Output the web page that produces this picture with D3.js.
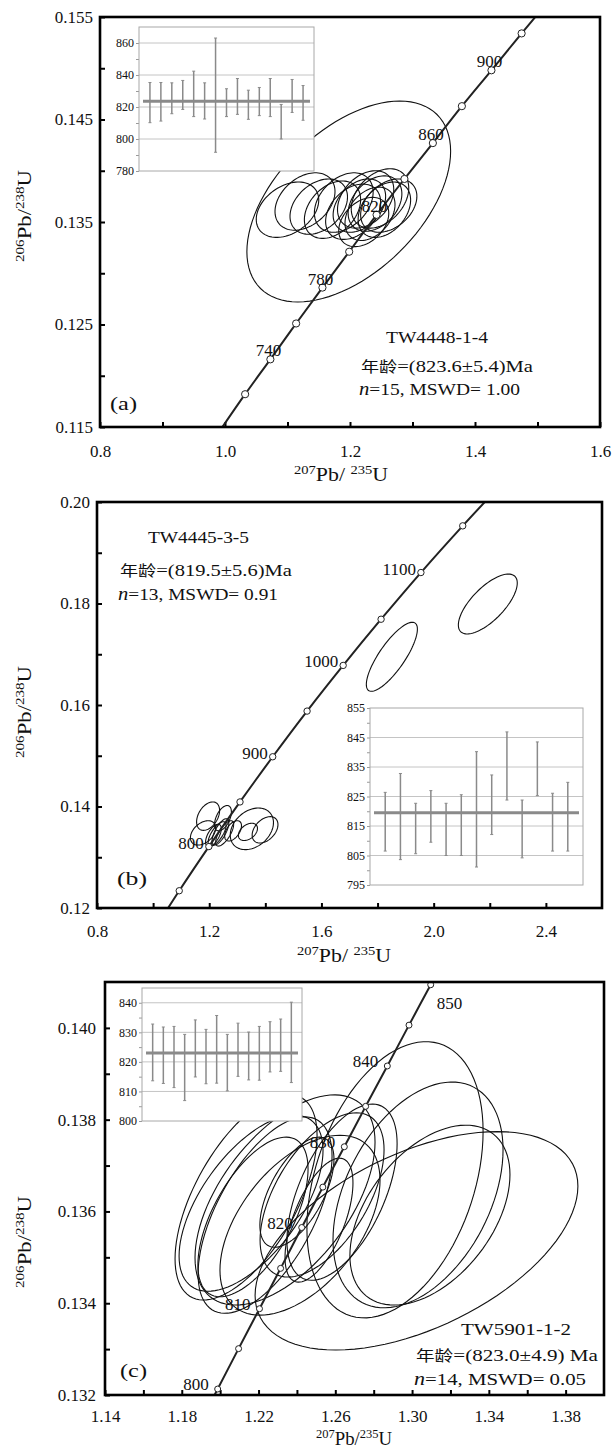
<!DOCTYPE html>
<html lang="zh-CN">
<head>
<meta charset="UTF-8">
<title>锆石 U-Pb 谐和图</title>
<style>
    body {
        margin: 0;
        padding: 0;
        background-color: #fff;
    }
    #chart {
        display: block;
    }
    text {
        font-family: "Liberation Serif", "Times New Roman", serif;
        fill: #111;
    }
    .cjk {
        font-family: "Noto Sans CJK SC", sans-serif;
    }
</style>
</head>
<body>
<svg id="chart" width="612" height="1452"></svg>

<script src="https://d3js.org/d3.v7.min.js"></script>
<script>
    // ---------- 数据 (a) TW4448-1-4 ----------
    // 谐和曲线年龄点 (Ma) 及其坐标
    var aConAge = [700, 720, 740, 760, 780, 800, 820, 840, 860, 880, 900, 920, 940];
    var aConX = [0.9925, 1.0322, 1.0726, 1.1138, 1.1559, 1.1987, 1.2425, 1.2871, 1.3326, 1.3790, 1.4263, 1.4746, 1.5238];
    var aConY = [0.1147, 0.1182, 0.1216, 0.1251, 0.1286, 0.1321, 0.1357, 0.1392, 0.1427, 0.1463, 0.1498, 0.1534, 0.1570];
    var aLabelAge = [740, 780, 820, 860, 900];
    // 误差椭圆: 中心, 2σ 范围, 相关系数
    var aEllX = [1.100, 1.128, 1.150, 1.172, 1.190, 1.205, 1.198, 1.215, 1.225, 1.232, 1.240, 1.248, 1.222, 1.255, 1.262];
    var aEllSX = [0.050, 0.048, 0.046, 0.045, 0.047, 0.044, 0.163, 0.042, 0.045, 0.040, 0.043, 0.046, 0.040, 0.042, 0.045];
    var aEllY = [0.1362, 0.1370, 0.1365, 0.1362, 0.1369, 0.1360, 0.1370, 0.1366, 0.1372, 0.1358, 0.1368, 0.1373, 0.1350, 0.1362, 0.1366];
    var aEllSY = [0.0027, 0.0028, 0.0027, 0.0028, 0.0029, 0.0027, 0.0098, 0.0026, 0.0028, 0.0026, 0.0027, 0.0029, 0.0024, 0.0027, 0.0026];
    var aEllRho = [0.35, 0.35, 0.35, 0.35, 0.35, 0.35, 0.5, 0.35, 0.35, 0.35, 0.35, 0.35, 0.35, 0.35, 0.35];
    // 插图: 单点年龄误差棒
    var aBarHi = [835.3, 835.3, 835.1, 836.6, 842.4, 835.1, 863.1, 831.4, 837.8, 830.5, 832.2, 837.8, 821.6, 837.2, 833.4];
    var aBarLo = [810.2, 811.2, 815.8, 818.5, 814.0, 812.5, 791.7, 814.0, 815.4, 812.3, 814.6, 814.0, 800.0, 816.6, 811.7];
    var aMean = 823.6;
    var aXTicks = [0.8, 1.0, 1.2, 1.4, 1.6], aXMinor = [0.9, 1.1, 1.3, 1.5];
    var aYTicks = [0.115, 0.125, 0.135, 0.145, 0.155], aYMinor = [0.12, 0.13, 0.14, 0.15];
    var aInsetTicks = [780, 800, 820, 840, 860], aInsetMinor = [790, 810, 830, 850];
    var aSample = "TW4448-1-4", aAge = "=(823.6±5.4)Ma", aStat = "=15, MSWD= 1.00";

    // ---------- 数据 (b) TW4445-3-5 ----------
    var bConAge = [700, 750, 800, 850, 900, 950, 1000, 1050, 1100, 1150, 1200];
    var bConX = [0.9925, 1.0931, 1.1987, 1.3097, 1.4263, 1.5488, 1.6774, 1.8126, 1.9545, 2.1036, 2.2603];
    var bConY = [0.1147, 0.1234, 0.1321, 0.1409, 0.1498, 0.1588, 0.1678, 0.1769, 0.1861, 0.1953, 0.2046];
    var bLabelAge = [800, 900, 1000, 1100];
    var bEllX = [1.178, 1.196, 1.249, 1.228, 1.240, 1.255, 1.215, 1.352, 1.338, 1.399, 1.285, 1.851, 2.193];
    var bEllSX = [0.045, 0.041, 0.030, 0.032, 0.030, 0.032, 0.028, 0.077, 0.034, 0.046, 0.030, 0.091, 0.105];
    var bEllY = [0.1348, 0.1381, 0.1377, 0.1346, 0.1350, 0.1347, 0.1343, 0.1356, 0.1350, 0.1354, 0.1352, 0.1695, 0.1799];
    var bEllSY = [0.0024, 0.0028, 0.0025, 0.0024, 0.0026, 0.0025, 0.0022, 0.0041, 0.0017, 0.0026, 0.0020, 0.0068, 0.0059];
    var bEllRho = [0.4, 0.4, 0.5, 0.7, 0.7, 0.7, 0.6, 0.3, 0.4, 0.4, 0.5, 0.8, 0.7];
    var bBarHi = [826.4, 832.8, 822.7, 827.0, 822.7, 825.6, 840.2, 832.3, 846.9, 823.8, 843.5, 826.1, 829.8];
    var bBarLo = [806.5, 803.6, 805.6, 809.5, 805.0, 805.0, 801.1, 812.1, 823.8, 804.2, 825.3, 806.5, 806.5];
    var bMean = 819.5;
    var bXTicks = [0.8, 1.2, 1.6, 2.0, 2.4], bXMinor = [1.0, 1.4, 1.8, 2.2];
    var bYTicks = [0.12, 0.14, 0.16, 0.18, 0.20], bYMinor = [0.13, 0.15, 0.17, 0.19];
    var bInsetTicks = [795, 805, 815, 825, 835, 845, 855], bInsetMinor = [800, 810, 820, 830, 840, 850];
    var bSample = "TW4445-3-5", bAge = "=(819.5±5.6)Ma", bStat = "=13, MSWD= 0.91";

    // ---------- 数据 (c) TW5901-1-2 ----------
    var cConAge = [795, 800, 805, 810, 815, 820, 825, 830, 835, 840, 845, 850, 855];
    var cConX = [1.1879, 1.1987, 1.2096, 1.2205, 1.2315, 1.2425, 1.2535, 1.2647, 1.2758, 1.2871, 1.2984, 1.3097, 1.3211];
    var cConY = [0.13125, 0.13213, 0.13301, 0.13388, 0.13476, 0.13565, 0.13653, 0.13741, 0.13829, 0.13917, 0.14006, 0.14094, 0.14183];
    var cLabelAge = [800, 810, 820, 830, 840, 850];
    var cEllX = [1.3023, 1.2911, 1.3031, 1.3093, 1.2531, 1.2635, 1.2515, 1.2400, 1.2135, 1.2161, 1.2234, 1.2171, 1.2338, 1.2416];
    var cEllSX = [0.0841, 0.0459, 0.0443, 0.0417, 0.0323, 0.0287, 0.0177, 0.0193, 0.0370, 0.0375, 0.0349, 0.0287, 0.0469, 0.0417];
    var cEllY = [0.13536, 0.13669, 0.13636, 0.13592, 0.13636, 0.13642, 0.13581, 0.13642, 0.13631, 0.13618, 0.13592, 0.13588, 0.13625, 0.13570];
    var cEllSY = [0.00238, 0.00301, 0.00246, 0.00196, 0.00179, 0.00192, 0.00135, 0.00120, 0.00224, 0.00192, 0.00214, 0.00174, 0.00229, 0.00196];
    var cEllRho = [0.5, 0.35, 0.4, 0.45, 0.55, 0.55, 0.6, 0.6, 0.6, 0.6, 0.6, 0.6, 0.55, 0.5];
    var cBarHi = [832.8, 831.8, 832.0, 829.3, 834.2, 831.0, 835.7, 829.3, 833.1, 830.1, 832.0, 833.6, 834.5, 840.2];
    var cBarLo = [813.6, 812.7, 811.3, 806.9, 814.9, 812.6, 812.8, 810.2, 815.1, 813.9, 813.8, 816.6, 816.8, 813.0];
    var cMean = 823.0;
    var cXTicks = [1.14, 1.18, 1.22, 1.26, 1.30, 1.34, 1.38], cXMinor = [1.16, 1.20, 1.24, 1.28, 1.32, 1.36];
    var cYTicks = [0.132, 0.134, 0.136, 0.138, 0.140], cYMinor = [0.133, 0.135, 0.137, 0.139];
    var cInsetTicks = [800, 810, 820, 830, 840], cInsetMinor = [805, 815, 825, 835];
    var cSample = "TW5901-1-2", cAge = "=(823.0±4.9) Ma", cStat = "=14, MSWD= 0.05";

    var svg = d3.select("#chart");

    // 椭圆路径 (x, y 为比例尺)
    function ellipsePath(x, y, cx, sx, cy, sy, rho) {
        var pts = d3.range(0, 97).map(function(i) {
            var t = i / 96 * 2 * Math.PI;
            return [x(cx + sx * Math.cos(t)),
                    y(cy + sy * (rho * Math.cos(t) + Math.sqrt(1 - rho * rho) * Math.sin(t)))];
        });
        return d3.line()(pts) + "Z";
    }

    // 比值坐标轴标题 206Pb/238U 等
    function ratioTitle(tx, ty, rot, num, mid, den, len) {
        var t = svg.append("text")
            .attr("transform", "translate(" + tx + "," + ty + ") rotate(" + rot + ")")
            .attr("text-anchor", "middle")
            .attr("font-size", 18)
            .attr("textLength", len)
            .attr("lengthAdjust", "spacingAndGlyphs");
        t.append("tspan").attr("font-size", 12).attr("dy", -7).text(num);
        t.append("tspan").attr("dy", 7).text(mid);
        t.append("tspan").attr("font-size", 12).attr("dy", -7).text(den);
        t.append("tspan").attr("dy", 7).text("U");
    }

    // 插图: 加权平均年龄
    function drawInset(box, dom, ticks, minor, hi, lo, mean) {
        var g = svg.append("g");
        var y = d3.scaleLinear().domain(dom).range([box.bottom, box.top]);
        var x = d3.scalePoint().domain(d3.range(hi.length)).range([box.left, box.right]).padding(1);

        g.append("rect")
            .attr("x", box.left).attr("y", box.top)
            .attr("width", box.right - box.left).attr("height", box.bottom - box.top)
            .attr("fill", "#fff");

        g.selectAll(".grid").data(ticks.filter(function(v) { return v > dom[0] && v < dom[1]; }))
            .enter().append("line")
            .attr("x1", box.left).attr("x2", box.right)
            .attr("y1", function(d) { return y(d); }).attr("y2", function(d) { return y(d); })
            .attr("stroke", "#c4c4c4").attr("stroke-width", 1);

        var axMinor = g.append("g").attr("transform", "translate(" + box.left + ",0)")
            .call(d3.axisLeft(y).tickValues(minor).tickSize(3).tickFormat(""));
        var axMajor = g.append("g").attr("transform", "translate(" + box.left + ",0)")
            .call(d3.axisLeft(y).tickValues(ticks).tickSize(3).tickPadding(2).tickFormat(d3.format("d")));
        [axMinor, axMajor].forEach(function(a) {
            a.select(".domain").remove();
            a.selectAll("line").attr("stroke", "#999");
            a.selectAll("text").attr("font-size", 12).attr("fill", "#222")
                .style("font-family", "Liberation Serif, serif");
        });

        g.selectAll(".bar").data(hi).enter().append("line")
            .attr("x1", function(d, i) { return x(i); }).attr("x2", function(d, i) { return x(i); })
            .attr("y1", function(d) { return y(d); }).attr("y2", function(d, i) { return y(lo[i]); })
            .attr("stroke", "#8a8a8a").attr("stroke-width", 1.5);
        g.selectAll(".capHi").data(hi).enter().append("line")
            .attr("x1", function(d, i) { return x(i) - 1.5; }).attr("x2", function(d, i) { return x(i) + 1.5; })
            .attr("y1", function(d) { return y(d); }).attr("y2", function(d) { return y(d); })
            .attr("stroke", "#8a8a8a").attr("stroke-width", 1);
        g.selectAll(".capLo").data(lo).enter().append("line")
            .attr("x1", function(d, i) { return x(i) - 1.5; }).attr("x2", function(d, i) { return x(i) + 1.5; })
            .attr("y1", function(d) { return y(d); }).attr("y2", function(d) { return y(d); })
            .attr("stroke", "#8a8a8a").attr("stroke-width", 1);

        g.append("line")
            .attr("x1", box.left + 4).attr("x2", box.right - 4)
            .attr("y1", y(mean)).attr("y2", y(mean))
            .attr("stroke", "#8a8a8a").attr("stroke-width", 3);

        g.append("rect")
            .attr("x", box.left).attr("y", box.top)
            .attr("width", box.right - box.left).attr("height", box.bottom - box.top)
            .attr("fill", "none").attr("stroke", "#a8a8a8").attr("stroke-width", 1);
    }

    // 主图
    function drawPanel(p) {
        var x = d3.scaleLinear().domain(p.xDom).range([p.left, p.right]);
        var y = d3.scaleLinear().domain(p.yDom).range([p.bottom, p.top]);
        var g = svg.append("g");

        svg.append("clipPath").attr("id", "clip-" + p.id).append("rect")
            .attr("x", p.left).attr("y", p.top)
            .attr("width", p.right - p.left).attr("height", p.bottom - p.top);

        // 坐标轴 (刻度朝内)
        var xMaj = g.append("g").attr("transform", "translate(0," + p.bottom + ")")
            .call(d3.axisBottom(x).tickValues(p.xTicks).tickSizeInner(-5).tickSizeOuter(0)
                .tickPadding(p.xPad).tickFormat(d3.format(p.xFmt)));
        var xMin = g.append("g").attr("transform", "translate(0," + p.bottom + ")")
            .call(d3.axisBottom(x).tickValues(p.xMinor).tickSizeInner(-5).tickSizeOuter(0).tickFormat(""));
        var yMaj = g.append("g").attr("transform", "translate(" + p.left + ",0)")
            .call(d3.axisLeft(y).tickValues(p.yTicks).tickSizeInner(-5).tickSizeOuter(0)
                .tickPadding(p.yPad).tickFormat(d3.format(p.yFmt)));
        var yMin = g.append("g").attr("transform", "translate(" + p.left + ",0)")
            .call(d3.axisLeft(y).tickValues(p.yMinor).tickSizeInner(-5).tickSizeOuter(0).tickFormat(""));
        [xMaj, xMin, yMaj, yMin].forEach(function(a) {
            a.select(".domain").remove();
            a.selectAll("line").attr("stroke", "#000").attr("stroke-width", 2);
            a.selectAll("text").attr("font-size", 17).attr("fill", "#111")
                .style("font-family", "Liberation Serif, serif");
        });

        // 插图
        drawInset(p.inset, p.insetDom, p.insetTicks, p.insetMinor, p.barHi, p.barLo, p.mean);

        // 误差椭圆
        var clip = g.append("g").attr("clip-path", "url(#clip-" + p.id + ")");
        clip.selectAll(".ell").data(p.ellX).enter().append("path")
            .attr("d", function(d, i) {
                return ellipsePath(x, y, d, p.ellSX[i], p.ellY[i], p.ellSY[i], p.ellRho[i]);
            })
            .attr("fill", "none").attr("stroke", "#111").attr("stroke-width", 1.1);

        // 谐和曲线
        var pts = p.conX.map(function(d, i) { return [x(d), y(p.conY[i])]; });
        clip.append("path")
            .attr("d", d3.line().curve(d3.curveCatmullRom)(pts))
            .attr("fill", "none").attr("stroke", "#222").attr("stroke-width", 2);

        // 年龄标注点
        var yr = p.yDom[1] - p.yDom[0];
        var idx = d3.range(p.conAge.length).filter(function(i) {
            return p.conY[i] >= p.yDom[0] - 0.003 * yr && p.conY[i] <= p.yDom[1] + 0.003 * yr;
        });
        g.selectAll(".mk").data(idx).enter().append("circle")
            .attr("cx", function(i) { return x(p.conX[i]); })
            .attr("cy", function(i) { return y(p.conY[i]); })
            .attr("r", p.markR)
            .attr("fill", "#fff").attr("stroke", "#222").attr("stroke-width", 1);

        // 年龄文字
        p.labelAge.forEach(function(age, k) {
            var i = p.conAge.indexOf(age);
            var px = x(p.conX[i]), py = y(p.conY[i]);
            var t = g.append("text").attr("font-size", 17).text(age);
            if (p.labelMode === "center") {
                t.attr("text-anchor", "middle").attr("x", px - 2).attr("y", py - 3);
            } else if (p.id === "c" && k === p.labelAge.length - 1) {
                t.attr("text-anchor", "start").attr("x", px + 6).attr("y", py + 24);
            } else {
                t.attr("text-anchor", "end").attr("x", px - p.labelDx).attr("y", py + p.labelDy);
            }
        });

        // 外框
        g.append("rect")
            .attr("x", p.left).attr("y", p.top)
            .attr("width", p.right - p.left).attr("height", p.bottom - p.top)
            .attr("fill", "none").attr("stroke", "#000").attr("stroke-width", 2.6);

        // 样品信息
        var n = p.note;
        g.append("text").attr("x", n.sx).attr("y", n.sy).attr("font-size", 17)
            .attr("textLength", n.sw).attr("lengthAdjust", "spacingAndGlyphs").text(p.sample);
        var ta = g.append("text").attr("x", n.ax).attr("y", n.ay).attr("font-size", 17)
            .attr("textLength", n.aw).attr("lengthAdjust", "spacingAndGlyphs");
        ta.append("tspan").attr("class", "cjk").attr("font-size", 15).text("年龄");
        ta.append("tspan").text(p.age);
        var tn = g.append("text").attr("x", n.nx).attr("y", n.ny).attr("font-size", 17)
            .attr("textLength", n.nw).attr("lengthAdjust", "spacingAndGlyphs");
        tn.append("tspan").attr("font-style", "italic").attr("font-size", 18).text("n");
        tn.append("tspan").text(p.stat);
        g.append("text").attr("x", n.px).attr("y", n.py).attr("font-size", 18)
            .attr("textLength", n.pw).attr("lengthAdjust", "spacingAndGlyphs").text("(" + p.id + ")");

        // 轴标题
        ratioTitle(p.xTitle[0], p.xTitle[1], 0, "207", p.xMid, "235", p.xTitle[2]);
        ratioTitle(p.yTitle[0], p.yTitle[1], -90, "206", "Pb/", "238", p.yTitle[2]);
    }

    drawPanel({
        id: "a", left: 100, right: 600, top: 17, bottom: 427,
        xDom: [0.8, 1.6], yDom: [0.115, 0.155],
        xTicks: aXTicks, xMinor: aXMinor, yTicks: aYTicks, yMinor: aYMinor,
        xFmt: ".1f", yFmt: ".3f", xPad: 18, yPad: 7,
        conAge: aConAge, conX: aConX, conY: aConY, labelAge: aLabelAge,
        labelMode: "center", markR: 3.6,
        ellX: aEllX, ellSX: aEllSX, ellY: aEllY, ellSY: aEllSY, ellRho: aEllRho,
        inset: {left: 139, right: 314, top: 27, bottom: 171}, insetDom: [780, 870],
        insetTicks: aInsetTicks, insetMinor: aInsetMinor, barHi: aBarHi, barLo: aBarLo, mean: aMean,
        sample: aSample, age: aAge, stat: aStat,
        note: {sx: 386, sy: 343, sw: 102, ax: 361, ay: 372, aw: 172, nx: 359, ny: 395, nw: 161, px: 110, py: 410, pw: 27},
        xTitle: [341, 481, 94], xMid: "Pb/ ", yTitle: [31, 216, 92]
    });

    drawPanel({
        id: "b", left: 97, right: 602, top: 502, bottom: 908,
        xDom: [0.8, 2.6], yDom: [0.12, 0.20],
        xTicks: bXTicks, xMinor: bXMinor, yTicks: bYTicks, yMinor: bYMinor,
        xFmt: ".1f", yFmt: ".2f", xPad: 17, yPad: 7,
        conAge: bConAge, conX: bConX, conY: bConY, labelAge: bLabelAge,
        labelMode: "left", labelDx: 5, labelDy: 2, markR: 3.2,
        ellX: bEllX, ellSX: bEllSX, ellY: bEllY, ellSY: bEllSY, ellRho: bEllRho,
        inset: {left: 370, right: 583, top: 708, bottom: 885}, insetDom: [795, 855],
        insetTicks: bInsetTicks, insetMinor: bInsetMinor, barHi: bBarHi, barLo: bBarLo, mean: bMean,
        sample: bSample, age: bAge, stat: bStat,
        note: {sx: 148, sy: 543, sw: 101, ax: 120, ay: 576, aw: 172, nx: 118, ny: 600, nw: 160, px: 117, py: 885, pw: 30},
        xTitle: [344, 962, 94], xMid: "Pb/ ", yTitle: [31, 712, 92]
    });

    drawPanel({
        id: "c", left: 105, right: 604, top: 982, bottom: 1395,
        xDom: [1.14, 1.40], yDom: [0.132, 0.141],
        xTicks: cXTicks, xMinor: cXMinor, yTicks: cYTicks, yMinor: cYMinor,
        xFmt: ".2f", yFmt: ".3f", xPad: 15, yPad: 9,
        conAge: cConAge, conX: cConX, conY: cConY, labelAge: cLabelAge,
        labelMode: "left", labelDx: 9, labelDy: 1, markR: 3,
        ellX: cEllX, ellSX: cEllSX, ellY: cEllY, ellSY: cEllSY, ellRho: cEllRho,
        inset: {left: 142, right: 302, top: 988, bottom: 1121}, insetDom: [800, 845],
        insetTicks: cInsetTicks, insetMinor: cInsetMinor, barHi: cBarHi, barLo: cBarLo, mean: cMean,
        sample: cSample, age: cAge, stat: cStat,
        note: {sx: 461, sy: 1335, sw: 110, ax: 416, ay: 1361, aw: 182, nx: 414, ny: 1385, nw: 172, px: 120, py: 1377, pw: 27},
        xTitle: [354, 1445, 76], xMid: "Pb/", yTitle: [31, 1242, 92]
    });
</script>
</body>
</html>
